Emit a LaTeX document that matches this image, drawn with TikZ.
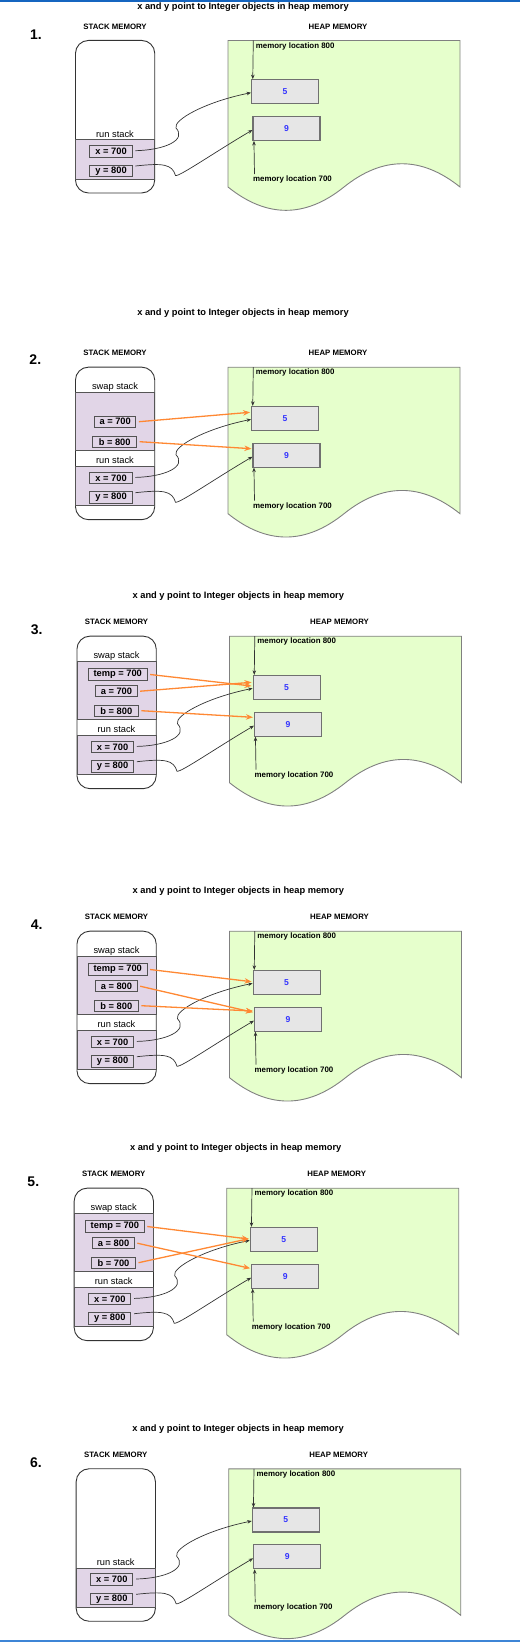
\documentclass[tikz,border=0pt]{standalone}
\usepackage{fontspec}
\setmainfont{Liberation Sans}
\usetikzlibrary{arrows.meta,calc}
\definecolor{lav}{HTML}{E1D5E7}
\definecolor{heapg}{HTML}{E6FFCC}
\definecolor{hfill}{HTML}{E6E6E6}
\definecolor{hgray}{HTML}{707070}
\definecolor{dk}{HTML}{333333}
\definecolor{bandln}{HTML}{555555}
\definecolor{heapln}{HTML}{808080}
\definecolor{numblue}{HTML}{3333FF}
\definecolor{orng}{HTML}{FF8833}
\definecolor{topblue}{HTML}{1565C0}
\definecolor{botblue}{HTML}{3D85D6}
\newcommand\fsTitle{\fontsize{9.3bp}{11bp}\selectfont\bfseries}
\newcommand\fsNumber{\fontsize{14bp}{16bp}\selectfont\bfseries}
\newcommand\fsHdr{\fontsize{7.8bp}{9bp}\selectfont\bfseries}
\newcommand\fsLoc{\fontsize{7.9bp}{9bp}\selectfont\bfseries}
\newcommand\fsLbl{\fontsize{9.3bp}{11bp}\selectfont}
\newcommand\fsBox{\fontsize{9.3bp}{11bp}\selectfont\bfseries}
\newcommand\fsHeapNum{\fontsize{8.6bp}{10bp}\selectfont\bfseries}
\tikzset{
  stackbox/.style={draw=dk, line width=0.9bp, fill=white, rounded corners=13bp, inner sep=0pt},
  bandbox/.style={draw=bandln, line width=0.9bp, fill=lav, inner sep=0pt},
  varbox/.style={draw=dk!85, line width=1bp, minimum height=11.4bp, inner sep=0pt, font=\fsBox},
  hbox/.style={draw=hgray, line width=1.1bp, fill=hfill, minimum width=67bp, minimum height=24bp, inner sep=0pt, font=\fsHeapNum, text=numblue},
  heapline/.style={draw=heapln, line width=0.9bp, fill=heapg},
  blk/.style={draw=dk, line width=0.7bp, -{Stealth[length=4.5bp,width=3.6bp]}},
  org/.style={draw=orng, line width=1.3bp, -{Stealth[length=7bp,width=5.5bp]}},
  ttl/.style={font=\fsTitle, inner sep=0pt},
  numlbl/.style={font=\fsNumber, inner sep=0pt, anchor=west},
  hdr/.style={font=\fsHdr, inner sep=0pt},
  loc/.style={font=\fsLoc, inner sep=0pt, anchor=west},
  lbl/.style={font=\fsLbl, inner sep=0pt},
}
\newcommand\panel[3]{%
\begin{scope}[shift={(#2,#3)}]
\node[stackbox, anchor=north west, minimum width=79.3bp, minimum height=152.5bp] (#1s) at (0,0) {};
\node[hdr] (#1sh) at (40,-13.5) {STACK MEMORY};
\node[hdr] (#1hh) at (263,-13.5) {HEAP MEMORY};
\node[bandbox, anchor=north west, minimum width=79.3bp, minimum height=39.4bp] (#1rb) at (0,99.2) {};
\node[lbl] (#1rl) at (40,93.7) {run stack};
\node[varbox, minimum width=42.3bp] (#1x) at (36.1,111.3) {x = 700};
\node[varbox, minimum width=42.3bp] (#1y) at (36.1,130.8) {y = 800};
\draw[heapline] (153,0.5) -- (385,0.5) -- (385,147) .. controls (346.3,116) and (307.7,116) .. (269,147) .. controls (230.3,178.1) and (191.7,178.1) .. (153,147) -- cycle;
\node[hbox] (#1h5) at (210.1,51.7) {5};
\node[hbox] (#1h9) at (211.5,88.4) {9};
\node[loc] (#1l8) at (180.7,6) {memory location 800};
\node[loc] (#1l7) at (178,139.3) {memory location 700};
\coordinate (#1m8) at (178.3,0.5);
\coordinate (#1m7) at (179.5,134);
\draw[blk] (#1m8) -- ([xshift=1.7bp]#1h5.north west);
\draw[blk] (#1m7) -- ([xshift=1.5bp]#1h9.south west);
\coordinate (#1xw) at (101,88);
\coordinate (#1yw) at (100.5,135.5);
\draw[blk] ([xshift=2.7bp,yshift=0.6bp]#1x.east) .. controls (90,110) and (112,100) .. (#1xw) .. controls (98,80) and (130,62) .. ([yshift=-1bp]#1h5.west);
\draw[blk] ([xshift=2.7bp,yshift=4.8bp]#1y.east) .. controls (88,123) and (97,124) .. (#1yw) .. controls (104,137) and (140,112) .. ([yshift=-1.6bp]#1h9.west);
\end{scope}}
\newcommand\swapband[3]{%
\begin{scope}[shift={(#2,#3)}]
\node[bandbox, anchor=north west, minimum width=79.3bp, minimum height=58.2bp] (#1sb) at (0,25.3) {};
\node[lbl] (#1sl) at (40,20) {swap stack};
\end{scope}}
\begin{document}
\begin{tikzpicture}[x=1bp,y=-1bp]
\useasboundingbox (0,0) rectangle (520,1642);
\fill[topblue] (0,0) rectangle (520,2);
\fill[botblue] (0,1640) rectangle (520,1642);
% ---------- panel 1
\node[ttl] (t1) at (243,7.5) {x and y point to Integer objects in heap memory};
\node[numlbl] (n1) at (30,34.3) {1.};
\panel{p1}{75}{40}
% ---------- panel 2
\node[ttl] (t2) at (243,313.3) {x and y point to Integer objects in heap memory};
\node[numlbl] (n2) at (29.3,360) {2.};
\panel{p2}{75}{366.7}
\swapband{p2}{75}{366.7}
\begin{scope}[shift={(75,366.7)}]
\node[varbox, minimum width=41.5bp] (p2a) at (40.2,55) {a = 700};
\node[varbox, minimum width=44bp] (p2b) at (39.7,75) {b = 800};
\end{scope}
\draw[org] ([xshift=2.5bp]p2a.east) -- ([xshift=-1bp,yshift=6.1bp]p2h5.west);
\draw[org] ([xshift=2.5bp]p2b.east) -- ([xshift=-1bp,yshift=6.4bp]p2h9.west);
% ---------- panel 3
\node[ttl] (t3) at (238.3,595.7) {x and y point to Integer objects in heap memory};
\node[numlbl] (n3) at (30.7,630) {3.};
\panel{p3}{76.5}{635.7}
\swapband{p3}{76.5}{635.7}
\begin{scope}[shift={(76.5,635.7)}]
\node[varbox, minimum width=58.7bp] (p3t) at (41.2,38.8) {temp = 700};
\node[varbox, minimum width=41.5bp] (p3a) at (39.9,55.5) {a = 700};
\node[varbox, minimum width=44bp] (p3b) at (39.8,75) {b = 800};
\end{scope}
\draw[org] ([xshift=2.5bp]p3t.east) -- ([xshift=-1bp,yshift=1.4bp]p3h5.west);
\draw[org] ([xshift=2.5bp]p3a.east) -- ([xshift=-1bp,yshift=5.1bp]p3h5.west);
\draw[org] ([xshift=2.5bp]p3b.east) -- ([xshift=-1bp,yshift=6.8bp]p3h9.west);
% ---------- panel 4
\node[ttl] (t4) at (238.3,891) {x and y point to Integer objects in heap memory};
\node[numlbl] (n4) at (30.7,925) {4.};
\panel{p4}{76.5}{930.7}
\swapband{p4}{76.5}{930.7}
\begin{scope}[shift={(76.5,930.7)}]
\node[varbox, minimum width=58.7bp] (p4t) at (41.2,38.8) {temp = 700};
\node[varbox, minimum width=41.5bp] (p4a) at (39.9,55.5) {a = 800};
\node[varbox, minimum width=44bp] (p4b) at (39.8,75) {b = 800};
\end{scope}
\draw[org] ([xshift=2.5bp]p4t.east) -- ([xshift=-1bp,yshift=0.7bp]p4h5.west);
\draw[org] ([xshift=2.5bp]p4a.east) -- ([xshift=-1bp,yshift=6.8bp]p4h9.west);
\draw[org] ([xshift=2.5bp]p4b.east) -- ([xshift=-1bp,yshift=8.1bp]p4h9.west);
% ---------- panel 5
\node[ttl] (t5) at (235.7,1147.7) {x and y point to Integer objects in heap memory};
\node[numlbl] (n5) at (27.3,1181.7) {5.};
\panel{p5}{73.7}{1187.7}
\swapband{p5}{73.7}{1187.7}
\begin{scope}[shift={(73.7,1187.7)}]
\node[varbox, minimum width=58.7bp] (p5t) at (41.2,38.8) {temp = 700};
\node[varbox, minimum width=41.5bp] (p5a) at (39.9,55.5) {a = 800};
\node[varbox, minimum width=44bp] (p5b) at (39.8,75) {b = 700};
\end{scope}
\draw[org] ([xshift=2.5bp]p5t.east) -- ([xshift=-1bp,yshift=0.4bp]p5h5.west);
\draw[org] ([xshift=2.5bp]p5a.east) -- ([xshift=-1bp,yshift=7.8bp]p5h9.west);
\draw[org] ([xshift=2.5bp]p5b.east) -- ([xshift=-1bp,yshift=0.7bp]p5h5.west);
% ---------- panel 6
\node[ttl] (t6) at (238,1429) {x and y point to Integer objects in heap memory};
\node[numlbl] (n6) at (30,1462.7) {6.};
\panel{p6}{75.7}{1468.3}
\end{tikzpicture}
\end{document}
